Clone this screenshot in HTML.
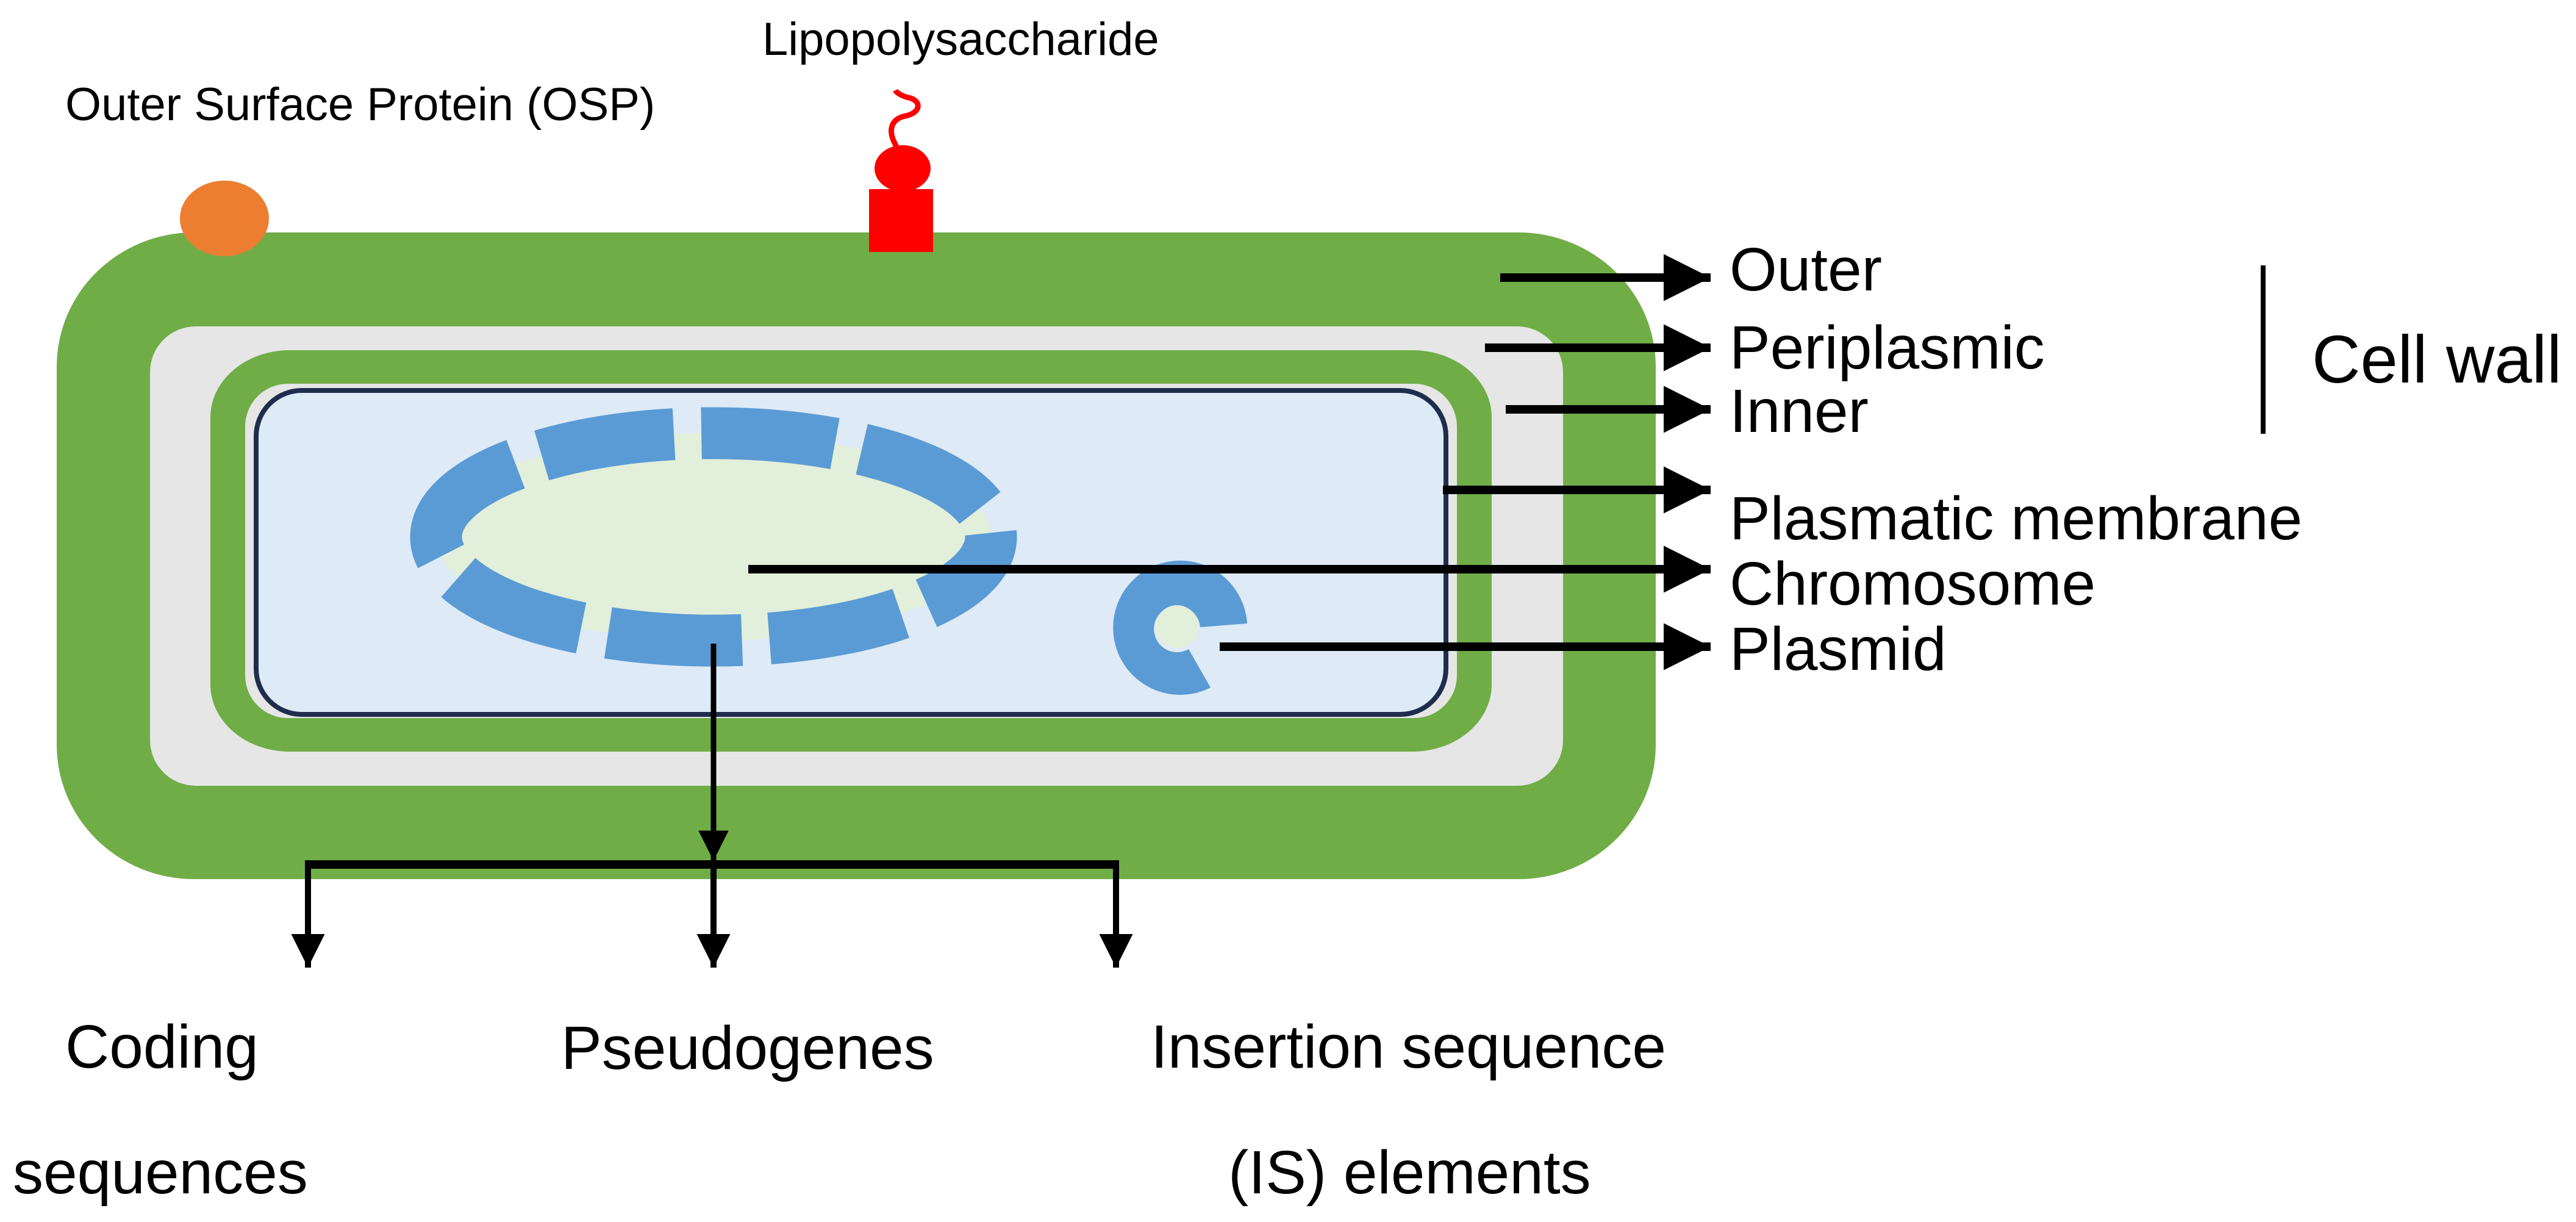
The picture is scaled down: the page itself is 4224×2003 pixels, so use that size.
<!DOCTYPE html>
<html><head><meta charset="utf-8"><style>
html,body{margin:0;padding:0;background:#fff;}
svg{display:block;}
text{font-family:"Liberation Sans",Arial,sans-serif;fill:#000;}
</style></head><body>
<svg width="4224" height="2003" viewBox="0 0 4224 2003" xmlns="http://www.w3.org/2000/svg">
<defs>
<marker id="ar" viewBox="0 0 10 10" refX="10" refY="5" markerWidth="5.5" markerHeight="5.5" markerUnits="strokeWidth" orient="auto">
<path d="M0,0 L10,5 L0,10 z" fill="#000"/></marker>
</defs>
<text x="107" y="197" font-size="76">Outer Surface Protein (OSP)</text>
<text x="1250" y="90" font-size="76">Lipopolysaccharide</text>
<rect x="93" y="381" width="2622" height="1060" rx="225" ry="220" fill="#70ad47"/>
<rect x="246" y="535" width="2317" height="753" rx="75" ry="75" fill="#e6e6e6"/>
<rect x="345" y="574" width="2101" height="658" rx="130" ry="110" fill="#70ad47"/>
<rect x="402" y="629" width="1987" height="548" rx="70" ry="70" fill="#e6e6e6"/>
<rect x="420" y="640" width="1951" height="531" rx="75" ry="75" fill="#deeaf6" stroke="#1f2d4d" stroke-width="8"/>
<ellipse cx="368" cy="358" rx="73" ry="62" fill="#ed7d31"/>
<rect x="1425" y="310" width="105" height="103" fill="#ff0000"/>
<ellipse cx="1480" cy="276" rx="46" ry="38" fill="#ff0000"/>
<path d="M1470,240 C1455,215 1460,195 1485,190 C1510,185 1512,165 1490,160 C1480,158 1470,152 1468,148" fill="none" stroke="#ff0000" stroke-width="9"/>
<ellipse cx="1170" cy="880" rx="455" ry="170" fill="#e2efda" stroke="#5b9bd5" stroke-width="85" stroke-dasharray="220 45" stroke-dashoffset="60"/>
<path d="M2045,1022 A110,110 0 1 0 1985,1127 L1949,1064 A38,38 0 1 1 1968,1028 Z" fill="#5b9bd5"/>
<circle cx="1930" cy="1027" r="35" fill="#e2efda"/>
<g stroke="#000" stroke-width="14" marker-end="url(#ar)">
<line x1="2460" y1="455" x2="2805" y2="455"/>
<line x1="2435" y1="570" x2="2805" y2="570"/>
<line x1="2469" y1="671" x2="2805" y2="671"/>
<line x1="2366" y1="803" x2="2805" y2="803"/>
<line x1="1227" y1="933" x2="2805" y2="933"/>
<line x1="2000" y1="1060" x2="2805" y2="1060"/>
</g>
<g font-size="100">
<text x="2836" y="476">Outer</text>
<text x="2836" y="604">Periplasmic</text>
<text x="2836" y="708">Inner</text>
<text x="2836" y="884">Plasmatic membrane</text>
<text x="2836" y="991">Chromosome</text>
<text x="2836" y="1098">Plasmid</text>
</g>
<line x1="3711" y1="435" x2="3711" y2="711" stroke="#000" stroke-width="8"/>
<text x="3791" y="627" font-size="110">Cell wall</text>
<g stroke="#000" stroke-width="10" marker-end="url(#ar)">
<line x1="1170" y1="1055" x2="1170" y2="1411" stroke-width="9"/>
<line x1="505" y1="1417" x2="505" y2="1586"/>
<line x1="1170" y1="1417" x2="1170" y2="1586"/>
<line x1="1830" y1="1417" x2="1830" y2="1586"/>
</g>
<line x1="500" y1="1417" x2="1835" y2="1417" stroke="#000" stroke-width="14"/>
<g font-size="100">
<text x="107" y="1750">Coding</text>
<text x="920" y="1752">Pseudogenes</text>
<text x="1887" y="1750">Insertion sequence</text>
<text x="21" y="1956">sequences</text>
<text x="2014" y="1956">(IS) elements</text>
</g>
</svg>
</body></html>
